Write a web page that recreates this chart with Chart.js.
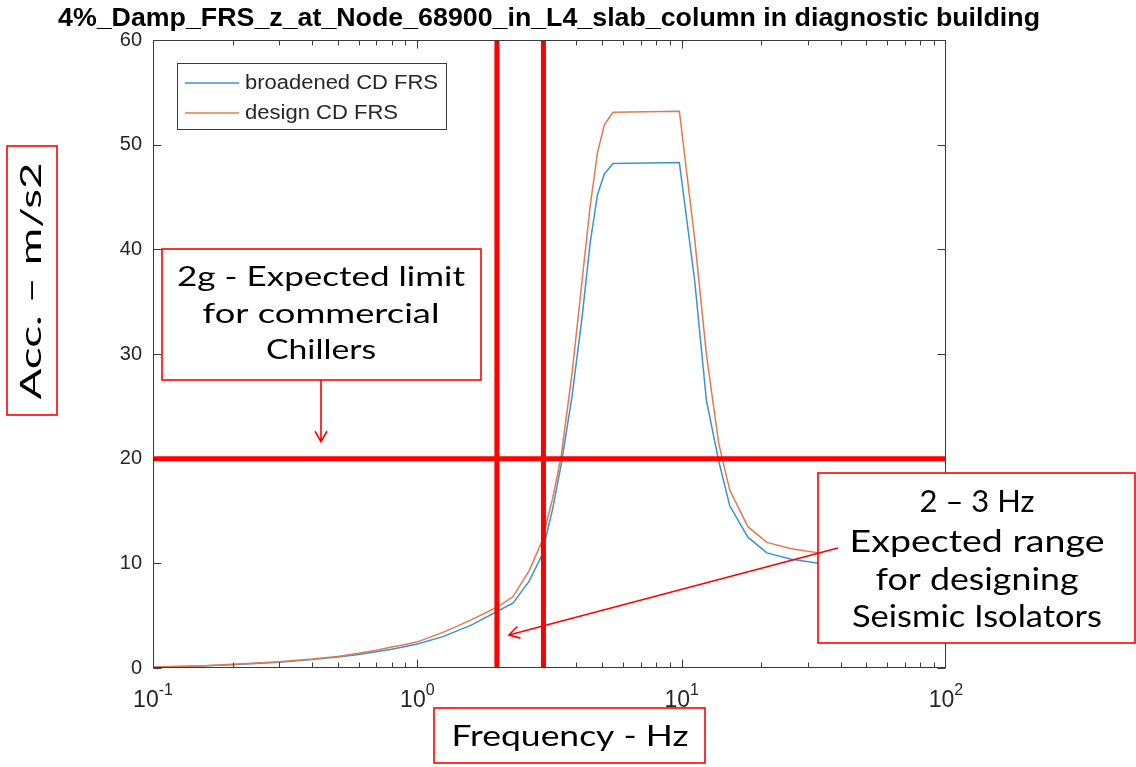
<!DOCTYPE html>
<html>
<head>
<meta charset="utf-8">
<title>FRS chart</title>
<script src="https://cdn.jsdelivr.net/npm/chart.js@4.4.1/dist/chart.umd.min.js"></script>
<style>
    html, body { margin: 0; padding: 0; background: #fff; }
    #wrap { width: 1136px; height: 767px; position: relative; }
</style>
</head>
<body>
<div id="wrap"><canvas id="frsChart" width="1136" height="767"></canvas></div>
<script>
// Values
const freqHz = [0.1, 0.15, 0.2, 0.3, 0.4, 0.5, 0.6, 0.7, 0.8, 0.9, 1.0, 1.25, 1.6, 2.0, 2.3, 2.65, 2.95,
    3.25, 3.5, 3.85, 4.2, 4.5, 4.8, 5.1, 5.5, 9.8, 11.2, 12.4, 13.8, 15.2, 17.8, 21.0, 26.0, 33.0, 50.0, 100.0];
const broadenedFRS = [0.1, 0.2, 0.3, 0.55, 0.8, 1.05, 1.3, 1.55, 1.8, 2.05, 2.3, 3.0, 4.1, 5.4, 6.2, 8.3, 10.7,
    15.2, 19.4, 26.0, 33.5, 40.5, 45.2, 47.2, 48.2, 48.3, 37.0, 25.6, 19.8, 15.5, 12.5, 11.0, 10.4, 10.0, 9.8, 9.7];
const designFRS = [0.1, 0.2, 0.35, 0.6, 0.85, 1.1, 1.4, 1.7, 2.0, 2.25, 2.5, 3.4, 4.6, 5.8, 6.8, 9.3, 12.0,
    16.2, 20.2, 28.2, 37.0, 44.0, 49.2, 51.9, 53.1, 53.2, 41.0, 30.0, 21.5, 17.0, 13.5, 12.0, 11.4, 11.0, 10.6, 10.3];
const seriesLabels = ['broadened CD FRS', 'design CD FRS'];
const chillerLimit = 20;          // m/s2 (2g)
const isolatorBand = [2, 3];      // Hz
const xRange = [0.1, 100];
const yRange = [0, 60];
const xTickValues = [0.1, 1, 10, 100];
const xTickExponents = ['-1', '0', '1', '2'];

const chartTitle = '4%_Damp_FRS_z_at_Node_68900_in_L4_slab_column in diagnostic building';
const yAxisLabel = 'Acc. \u2013 m/s2';
const xAxisLabel = 'Frequency - Hz';
const chillerNote = ['2g - Expected limit', 'for commercial', 'Chillers'];
const isolatorNote = ['2 \u2013 3 Hz', 'Expected range', 'for designing', 'Seismic Isolators'];

const BLUE = '#3a93d2';
const ORANGE = '#e5784e';
const RED = '#ff0000';
const AXIS = '#3a3a3a';
const NOTE_FONT = '"Lato", "DejaVu Sans", sans-serif';
const TICK_FONT = '"Liberation Sans", Arial, sans-serif';

function toPoints(values) {
    return freqHz.map((f, i) => ({ x: f, y: values[i] }));
}

// draws a line of text squeezed/stretched to a given width
function fitText(ctx, text, cx, cy, width, size, family, weight, color) {
    ctx.save();
    ctx.font = `${weight || 'normal'} ${size}px ${family}`;
    const w = ctx.measureText(text).width;
    ctx.translate(cx, cy);
    ctx.scale(width / w, 1);
    ctx.fillStyle = color || '#000';
    ctx.textAlign = 'center';
    ctx.textBaseline = 'middle';
    ctx.fillText(text, 0, 0);
    ctx.restore();
}

function redBox(ctx, x1, y1, x2, y2, fill) {
    ctx.save();
    if (fill) {
        ctx.fillStyle = '#fff';
        ctx.fillRect(x1, y1, x2 - x1, y2 - y1);
    }
    ctx.strokeStyle = RED;
    ctx.lineWidth = 1.6;
    ctx.strokeRect(x1, y1, x2 - x1, y2 - y1);
    ctx.restore();
}

function arrow(ctx, x1, y1, x2, y2) {
    const ang = Math.atan2(y2 - y1, x2 - x1);
    const len = 12, spread = Math.PI / 6;
    ctx.save();
    ctx.strokeStyle = RED;
    ctx.lineWidth = 1.6;
    ctx.beginPath();
    ctx.moveTo(x1, y1);
    ctx.lineTo(x2, y2);
    ctx.moveTo(x2 - len * Math.cos(ang - spread), y2 - len * Math.sin(ang - spread));
    ctx.lineTo(x2, y2);
    ctx.lineTo(x2 - len * Math.cos(ang + spread), y2 - len * Math.sin(ang + spread));
    ctx.stroke();
    ctx.restore();
}

const decorPlugin = {
    id: 'decor',
    afterDraw(chart) {
        const ctx = chart.ctx;
        const area = chart.chartArea;
        const xs = chart.scales.x;
        const ys = chart.scales.y;

        // axes box with inward ticks (matlab style)
        ctx.save();
        ctx.strokeStyle = AXIS;
        ctx.lineWidth = 1;
        const L = Math.round(area.left) + 0.5, R = Math.round(area.right) - 0.5;
        const T = Math.round(area.top) + 0.5, B = Math.round(area.bottom) - 0.5;
        ctx.strokeRect(L, T, R - L, B - T);
        ctx.beginPath();
        for (let d = -1; d <= 1; d++) {
            for (let m = 1; m <= 9; m++) {
                const f = m * Math.pow(10, d);
                const px = Math.round(xs.getPixelForValue(f)) + 0.5;
                const tl = m === 1 ? 8 : 5;
                ctx.moveTo(px, B); ctx.lineTo(px, B - tl);
                ctx.moveTo(px, T); ctx.lineTo(px, T + tl);
            }
        }
        for (let v = yRange[0]; v <= yRange[1]; v += 10) {
            const py = Math.round(ys.getPixelForValue(v)) + 0.5;
            ctx.moveTo(L, py); ctx.lineTo(L + 8, py);
            ctx.moveTo(R, py); ctx.lineTo(R - 8, py);
        }
        ctx.stroke();

        // x tick labels 10^n
        ctx.fillStyle = '#262626';
        ctx.textBaseline = 'alphabetic';
        ctx.textAlign = 'left';
        xTickValues.forEach((v, i) => {
            const px = xs.getPixelForValue(v);
            ctx.font = `23px ${TICK_FONT}`;
            const wBase = ctx.measureText('10').width;
            ctx.font = `16px ${TICK_FONT}`;
            const wExp = ctx.measureText(xTickExponents[i]).width;
            const x0 = px - (wBase + wExp) / 2;
            ctx.font = `23px ${TICK_FONT}`;
            ctx.fillText('10', x0, 707);
            ctx.font = `16px ${TICK_FONT}`;
            ctx.fillText(xTickExponents[i], x0 + wBase, 695);
        });
        ctx.restore();

        // legend
        ctx.save();
        ctx.fillStyle = '#fff';
        ctx.fillRect(177, 63, 270, 67);
        ctx.strokeStyle = AXIS;
        ctx.lineWidth = 1;
        ctx.strokeRect(177.5, 63.5, 269, 66);
        const legendRows = [83, 113];
        const legendWidths = [193, 153];
        chart.data.datasets.slice(0, 2).forEach((ds, i) => {
            ctx.strokeStyle = ds.borderColor;
            ctx.lineWidth = 1.5;
            ctx.beginPath();
            ctx.moveTo(185, legendRows[i]);
            ctx.lineTo(239, legendRows[i]);
            ctx.stroke();
            fitText(ctx, ds.label, 245 + legendWidths[i] / 2, legendRows[i], legendWidths[i], 20,
                TICK_FONT, 'normal', '#262626');
        });
        ctx.restore();

        // title
        fitText(ctx, chartTitle, 549, 19, 982, 25, TICK_FONT, 'bold', '#000');

        // annotation: chiller limit
        redBox(ctx, 162, 249, 481, 380, true);
        const c1 = [277, 314, 350], w1 = [288, 237, 110];
        chillerNote.forEach((t, i) => fitText(ctx, t, 321, c1[i], w1[i], 27, NOTE_FONT, 'normal', '#000'));
        arrow(ctx, 321, 380, 321, ys.getPixelForValue(chillerLimit) - 17);

        // annotation: isolator band
        redBox(ctx, 818, 473, 1135, 643, true);
        const c2 = [502, 542, 580, 617], w2 = [115, 255, 203, 250];
        isolatorNote.forEach((t, i) => fitText(ctx, t, 977, c2[i], w2[i], 30, NOTE_FONT, 'normal', '#000'));
        arrow(ctx, 838, 548, xs.getPixelForValue(isolatorBand[0]) + 12, 635);

        // axis labels in red boxes
        redBox(ctx, 7, 146, 57, 415, false);
        ctx.save();
        ctx.translate(32, 281);
        ctx.rotate(-Math.PI / 2);
        fitText(ctx, yAxisLabel, 0, 0, 237, 29, NOTE_FONT, 'normal', '#000');
        ctx.restore();

        redBox(ctx, 434, 708, 705, 763, false);
        fitText(ctx, xAxisLabel, 570, 737, 237, 29, NOTE_FONT, 'normal', '#000');
    }
};

const ctx = document.getElementById('frsChart');
new Chart(ctx, {
    type: 'line',
    data: {
        datasets: [{
            label: seriesLabels[0],
            data: toPoints(broadenedFRS),
            borderColor: BLUE,
            borderWidth: 1.5,
            pointRadius: 0,
            order: 2
        }, {
            label: seriesLabels[1],
            data: toPoints(designFRS),
            borderColor: ORANGE,
            borderWidth: 1.5,
            pointRadius: 0,
            order: 1
        }, {
            label: 'lower band',
            data: [{ x: isolatorBand[0], y: yRange[0] }, { x: isolatorBand[0], y: yRange[1] }],
            borderColor: RED,
            borderWidth: 5,
            pointRadius: 0,
            order: 0
        }, {
            label: 'upper band',
            data: [{ x: isolatorBand[1], y: yRange[0] }, { x: isolatorBand[1], y: yRange[1] }],
            borderColor: RED,
            borderWidth: 5,
            pointRadius: 0,
            order: 0
        }, {
            label: '2g limit',
            data: [{ x: xRange[0], y: chillerLimit }, { x: xRange[1], y: chillerLimit }],
            borderColor: RED,
            borderWidth: 5,
            pointRadius: 0,
            order: 0
        }]
    },
    options: {
        responsive: false,
        devicePixelRatio: 1,
        animation: false,
        layout: {
            padding: { left: 0, top: 40, right: 190, bottom: 99 }
        },
        plugins: {
            legend: { display: false },
            tooltip: { enabled: false },
            title: { display: false }
        },
        scales: {
            x: {
                type: 'logarithmic',
                display: false,
                min: xRange[0],
                max: xRange[1]
            },
            y: {
                min: yRange[0],
                max: yRange[1],
                grid: { display: false, drawTicks: false },
                border: { display: false },
                ticks: {
                    stepSize: 10,
                    padding: 11,
                    color: '#262626',
                    font: { family: TICK_FONT, size: 20 }
                },
                afterFit(scale) {
                    scale.width = 153;
                }
            }
        }
    },
    plugins: [decorPlugin]
});
</script>
</body>
</html>
